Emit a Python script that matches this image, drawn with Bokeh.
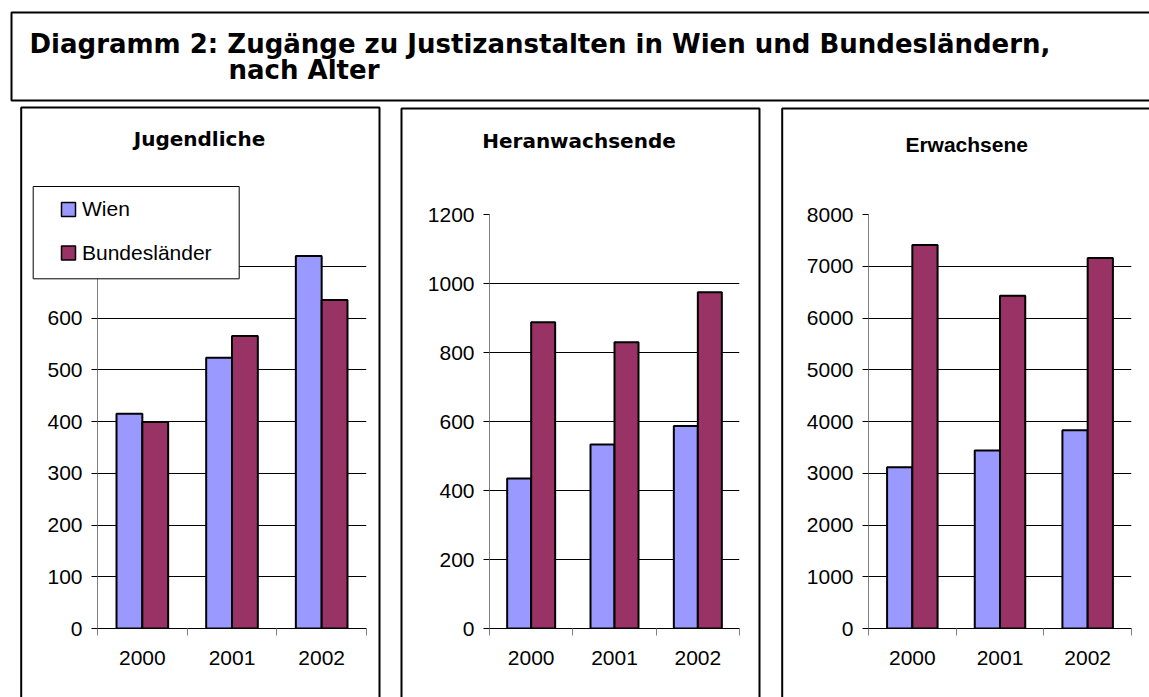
import numpy as np
from bokeh.plotting import figure
from bokeh.models import (Range1d, FixedTicker, BoxAnnotation, Label, Legend, LegendItem,
                          ColumnDataSource, GridBox, Spacer)
from bokeh.layouts import column, row
from bokeh.embed import file_html
from bokeh.resources import INLINE

# ---- data ----
years = ["2000", "2001", "2002"]
series_names = ["Wien", "Bundesländer"]
jug_wien = [415, 523, 720]
jug_bund = [399, 565, 635]
her_wien = [435, 533, 587]
her_bund = [888, 830, 975]
erw_wien = [3115, 3440, 3830]
erw_bund = [7410, 6430, 7160]
panel_titles = ["Jugendliche", "Heranwachsende", "Erwachsene"]
main_title_1 = "Diagramm 2: Zugänge zu Justizanstalten in Wien und Bundesländern,"
main_title_2 = "nach Alter"

WIEN_COLOR = "#9999FF"
BUND_COLOR = "#993366"
series_colors = [WIEN_COLOR, BUND_COLOR]
W, H = 1149, 697
TOP_H = 104
PANEL_H = H - TOP_H
BAR_W = 0.288


def make_panel(wien, bund, ymax, ystep, width, mb_l, mb_r, mb_t, mb_b):
    p = figure(width=width, height=PANEL_H, output_backend="svg", toolbar_location=None,
               x_range=Range1d(0, len(years)), y_range=Range1d(0, ymax),
               min_border_left=mb_l, min_border_right=mb_r,
               min_border_top=mb_t, min_border_bottom=mb_b)
    p.outline_line_color = None
    p.background_fill_color = "white"
    p.border_fill_color = "white"

    centers = np.arange(len(years)) + 0.5
    p.vbar(x=centers - BAR_W / 2, width=BAR_W, top=wien, bottom=0,
           fill_color=WIEN_COLOR, line_color="black", line_width=2)
    p.vbar(x=centers + BAR_W / 2, width=BAR_W, top=bund, bottom=0,
           fill_color=BUND_COLOR, line_color="black", line_width=2)

    ya = p.yaxis[0]
    ya.ticker = FixedTicker(ticks=list(range(0, ymax + 1, ystep)))
    ya.axis_line_color = "#808080"
    ya.major_tick_line_color = "black"
    ya.major_tick_out = 6
    ya.major_tick_in = 0
    ya.minor_tick_line_color = None
    ya.major_label_text_font = "Liberation Sans"
    ya.major_label_text_font_size = "21px"
    ya.major_label_text_color = "black"
    ya.major_label_standoff = 9

    xa = p.xaxis[0]
    xa.ticker = FixedTicker(ticks=list(centers), minor_ticks=list(range(len(years) + 1)))
    xa.major_label_overrides = {float(c): y for c, y in zip(centers, years)}
    xa.axis_line_color = "black"
    xa.major_tick_out = 0
    xa.major_tick_in = 0
    xa.major_tick_line_color = None
    xa.minor_tick_out = 7
    xa.minor_tick_in = 0
    xa.minor_tick_line_color = "#808080"
    xa.major_label_text_font = "Liberation Sans"
    xa.major_label_text_font_size = "21px"
    xa.major_label_text_color = "black"
    xa.major_label_standoff = 15

    p.xgrid.visible = False
    p.ygrid.grid_line_color = "black"
    p.ygrid.grid_line_width = 1
    return p


p1 = make_panel(jug_wien, jug_bund, 800, 100, 390, 97, 24, 110, 69)
p2 = make_panel(her_wien, her_bund, 1200, 200, 380, 99, 31, 110, 69)
p3 = make_panel(erw_wien, erw_bund, 8000, 1000, 379, 98, 18, 110, 67)
base = column(Spacer(width=W, height=TOP_H), row(p1, p2, p3, spacing=0), spacing=0)

# ---- overlay: frames, titles and legend (page pixel coordinates) ----
ov = figure(width=W, height=H, output_backend="svg", toolbar_location=None,
            x_range=Range1d(0, W), y_range=Range1d(H, 0),
            min_border=0, x_axis_type=None, y_axis_type=None)
ov.outline_line_color = None
ov.background_fill_color = None
ov.border_fill_color = None
ov.xgrid.visible = False
ov.ygrid.visible = False


def frame_box(l, r, t, b, lw=2.0, fill=None):
    return BoxAnnotation(left=l, right=r, top=t, bottom=b,
                         fill_color=fill if fill else None, fill_alpha=1 if fill else 0,
                         line_color="black", line_alpha=1, line_width=lw)


ov.add_layout(frame_box(11, W + 20, 12, 100))
ov.add_layout(frame_box(20.7, 379, 107, H + 20))
ov.add_layout(frame_box(401, 759, 108, H + 20))
ov.add_layout(frame_box(781.7, W + 20, 108, H + 20))

ov.add_layout(Label(x=29, y=43.5, text=main_title_1, text_align="left", text_baseline="alphabetic",
                    text_font="DejaVu Sans", text_font_size="26px", text_font_style="bold",
                    text_color="black"))
ov.add_layout(Label(x=228, y=69, text=main_title_2, text_align="left", text_baseline="alphabetic",
                    text_font="DejaVu Sans", text_font_size="26px", text_font_style="bold",
                    text_color="black"))

for txt, fnt, fs, cx, cy in [(panel_titles[0], "DejaVu Sans", "20px", 199, 138.7),
                             (panel_titles[1], "DejaVu Sans", "20px", 578.5, 140.3),
                             (panel_titles[2], "Liberation Sans", "21px", 966.2, 144.2)]:
    ov.add_layout(Label(x=cx, y=cy, text=txt, text_align="center", text_baseline="middle",
                        text_font=fnt, text_font_size=fs, text_font_style="bold",
                        text_color="black"))

# legend box (white, covers part of the first panel), swatches and legend entries
ov.add_layout(frame_box(32.7, 238.7, 186, 278.3, lw=1, fill="white"))
for col, (t, b) in zip(series_colors, [(202, 216), (245.5, 259.5)]):
    ov.add_layout(BoxAnnotation(left=61, right=75, top=t, bottom=b,
                                fill_color=col, fill_alpha=1,
                                line_color="black", line_alpha=1, line_width=1.5))

src_w = ColumnDataSource(data=dict(x=[], top=[]))
src_b = ColumnDataSource(data=dict(x=[], top=[]))
lw_r = ov.vbar(x="x", top="top", width=1, source=src_w, fill_color=WIEN_COLOR,
               line_color="black", line_width=2)
lb_r = ov.vbar(x="x", top="top", width=1, source=src_b, fill_color=BUND_COLOR,
               line_color="black", line_width=2)
leg = Legend(items=[LegendItem(label=series_names[0], renderers=[lw_r]),
                    LegendItem(label=series_names[1], renderers=[lb_r])],
             location=(59, H - 265), margin=0, padding=0, spacing=20,
             glyph_width=17, glyph_height=17, label_standoff=6, label_height=24,
             label_text_font="Liberation Sans", label_text_font_size="21px",
             label_text_color="black",
             border_line_color=None, background_fill_color=None, background_fill_alpha=0)
ov.add_layout(leg, "center")

layout = GridBox(children=[(base, 0, 0), (ov, 0, 0)])
open("out.html", "w").write(file_html(layout, INLINE))
